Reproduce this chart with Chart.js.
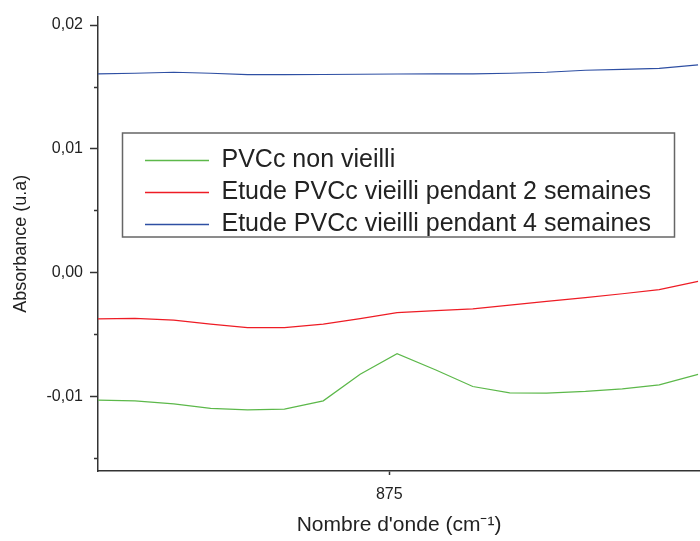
<!DOCTYPE html>
<html>
<head>
<meta charset="utf-8">
<script src="https://cdn.jsdelivr.net/npm/chart.js@4.4.0/dist/chart.umd.min.js"></script>
<style>
  html, body { margin: 0; padding: 0; background: #fff; }
  #wrap { width: 700px; height: 541px; }
</style>
</head>
<body>
<div id="wrap"><canvas id="ftirChart" width="700" height="541"></canvas></div>
<script>
// wavenumbers (cm-1)
const wavenumbers = [860.0, 861.9, 863.9, 865.8, 867.7, 869.6, 871.6, 873.5, 875.4, 877.4, 879.3, 881.2, 883.1, 885.1, 887.0, 888.9, 890.9];

const nonVieilli = [-0.01027, -0.01032, -0.01056, -0.01093, -0.01105, -0.01099, -0.01032, -0.00817, -0.00652, -0.00783, -0.00916, -0.00968, -0.00970, -0.00956, -0.00936, -0.00903, -0.00819];
const vieilli2sem = [-0.00370, -0.00367, -0.00381, -0.00413, -0.00441, -0.00442, -0.00413, -0.00368, -0.00320, -0.00304, -0.00290, -0.00259, -0.00230, -0.00200, -0.00168, -0.00135, -0.00068];
const vieilli4sem = [0.01606, 0.01611, 0.01619, 0.01611, 0.01600, 0.01600, 0.01601, 0.01603, 0.01605, 0.01606, 0.01606, 0.01611, 0.01619, 0.01635, 0.01643, 0.01651, 0.01679];

const seriesLabels = ['PVCc non vieilli', 'Etude PVCc vieilli pendant 2 semaines', 'Etude PVCc vieilli pendant 4 semaines'];
const seriesColors = ['#5cb84a', '#ee1c25', '#2e4fa3'];

const xTicks = [875];
const yTicks = [-0.01, 0.00, 0.01, 0.02];
const yMinorTicks = [-0.015, -0.005, 0.005, 0.015];

const yMin = -0.01598, yMax = 0.02068;
const axisColor = '#333';
const textColor = '#222';

Chart.defaults.font.family = "'Liberation Sans', Arial, sans-serif";

function toPoints(values) {
    return values.map((v, i) => ({ x: wavenumbers[i], y: v }));
}

// frame around the legend, legend is moved inside the plot
const legendFrame = {
    id: 'legendFrame',
    afterLayout(chart) {
        const lg = chart.legend;
        const h = lg.height;
        lg.left = 138;
        lg.top = 141;
        lg.right = lg.left + lg.width;
        lg.bottom = lg.top + h;
    },
    afterDraw(chart) {
        const lg = chart.legend;
        const ctx = chart.ctx;
        ctx.save();
        ctx.strokeStyle = '#666';
        ctx.lineWidth = 1.5;
        ctx.strokeRect(lg.left - 15.5, lg.top - 8, 552, 104);
        ctx.restore();
    }
};

const ctx = document.getElementById('ftirChart').getContext('2d');
new Chart(ctx, {
    type: 'line',
    data: {
        datasets: [nonVieilli, vieilli2sem, vieilli4sem].map((vals, i) => ({
            label: seriesLabels[i],
            data: toPoints(vals),
            borderColor: seriesColors[i],
            backgroundColor: seriesColors[i],
            borderWidth: 1.2
        }))
    },
    options: {
        responsive: false,
        animation: false,
        devicePixelRatio: 1,
        elements: {
            point: { radius: 0 },
            line: { tension: 0 }
        },
        layout: { padding: { top: 15, left: 0, right: 0, bottom: 0 } },
        plugins: {
            tooltip: { enabled: false },
            legend: {
                position: 'chartArea',
                align: 'start',
                labels: {
                    usePointStyle: true,
                    pointStyle: 'line',
                    pointStyleWidth: 64,
                    padding: 7,
                    color: textColor,
                    font: { size: 25 },
                    generateLabels: chart => chart.data.datasets.map((ds, i) => ({
                        text: ds.label,
                        strokeStyle: seriesColors[i],
                        fillStyle: seriesColors[i],
                        fontColor: textColor,
                        lineWidth: 1.5,
                        pointStyle: 'line',
                        hidden: false,
                        datasetIndex: i
                    }))
                }
            }
        },
        scales: {
            x: {
                type: 'linear',
                min: 860,
                max: 891,
                afterFit: s => { s.height = 70; },
                afterBuildTicks: s => { s.ticks = xTicks.map(v => ({ value: v })); },
                ticks: {
                    color: textColor,
                    font: { size: 16 },
                    padding: 10,
                    maxRotation: 0,
                    callback: v => String(v)
                },
                grid: { drawOnChartArea: false, tickLength: 4, tickColor: axisColor, tickWidth: 1.5 },
                border: { color: axisColor, width: 1.5 },
                title: {
                    display: true,
                    text: "Nombre d'onde (cm⁻¹)",
                    color: textColor,
                    font: { size: 21 },
                    padding: { top: 0, bottom: 3 }
                }
            },
            y: {
                type: 'linear',
                position: 'left',
                weight: 1,
                min: yMin,
                max: yMax,
                afterFit: s => { s.width = 98; },
                afterBuildTicks: s => { s.ticks = yTicks.map(v => ({ value: v })); },
                ticks: {
                    color: textColor,
                    font: { size: 16 },
                    padding: 7,
                    callback: v => v.toFixed(2).replace('.', ',')
                },
                grid: { drawOnChartArea: false, tickLength: 8, tickColor: axisColor, tickWidth: 1.5 },
                border: { color: axisColor, width: 1.5 },
                title: {
                    display: true,
                    text: 'Absorbance (u.a)',
                    color: textColor,
                    font: { size: 18 },
                    padding: { top: 10, bottom: 0 }
                }
            },
            yMinor: {
                type: 'linear',
                position: 'left',
                weight: 0,
                min: yMin,
                max: yMax,
                afterFit: s => { s.width = 0; },
                afterBuildTicks: s => { s.ticks = yMinorTicks.map(v => ({ value: v })); },
                ticks: { display: false },
                grid: { drawOnChartArea: false, tickLength: 4, tickColor: axisColor, tickWidth: 1.5 },
                border: { display: false }
            }
        }
    },
    plugins: [legendFrame]
});
</script>
</body>
</html>
